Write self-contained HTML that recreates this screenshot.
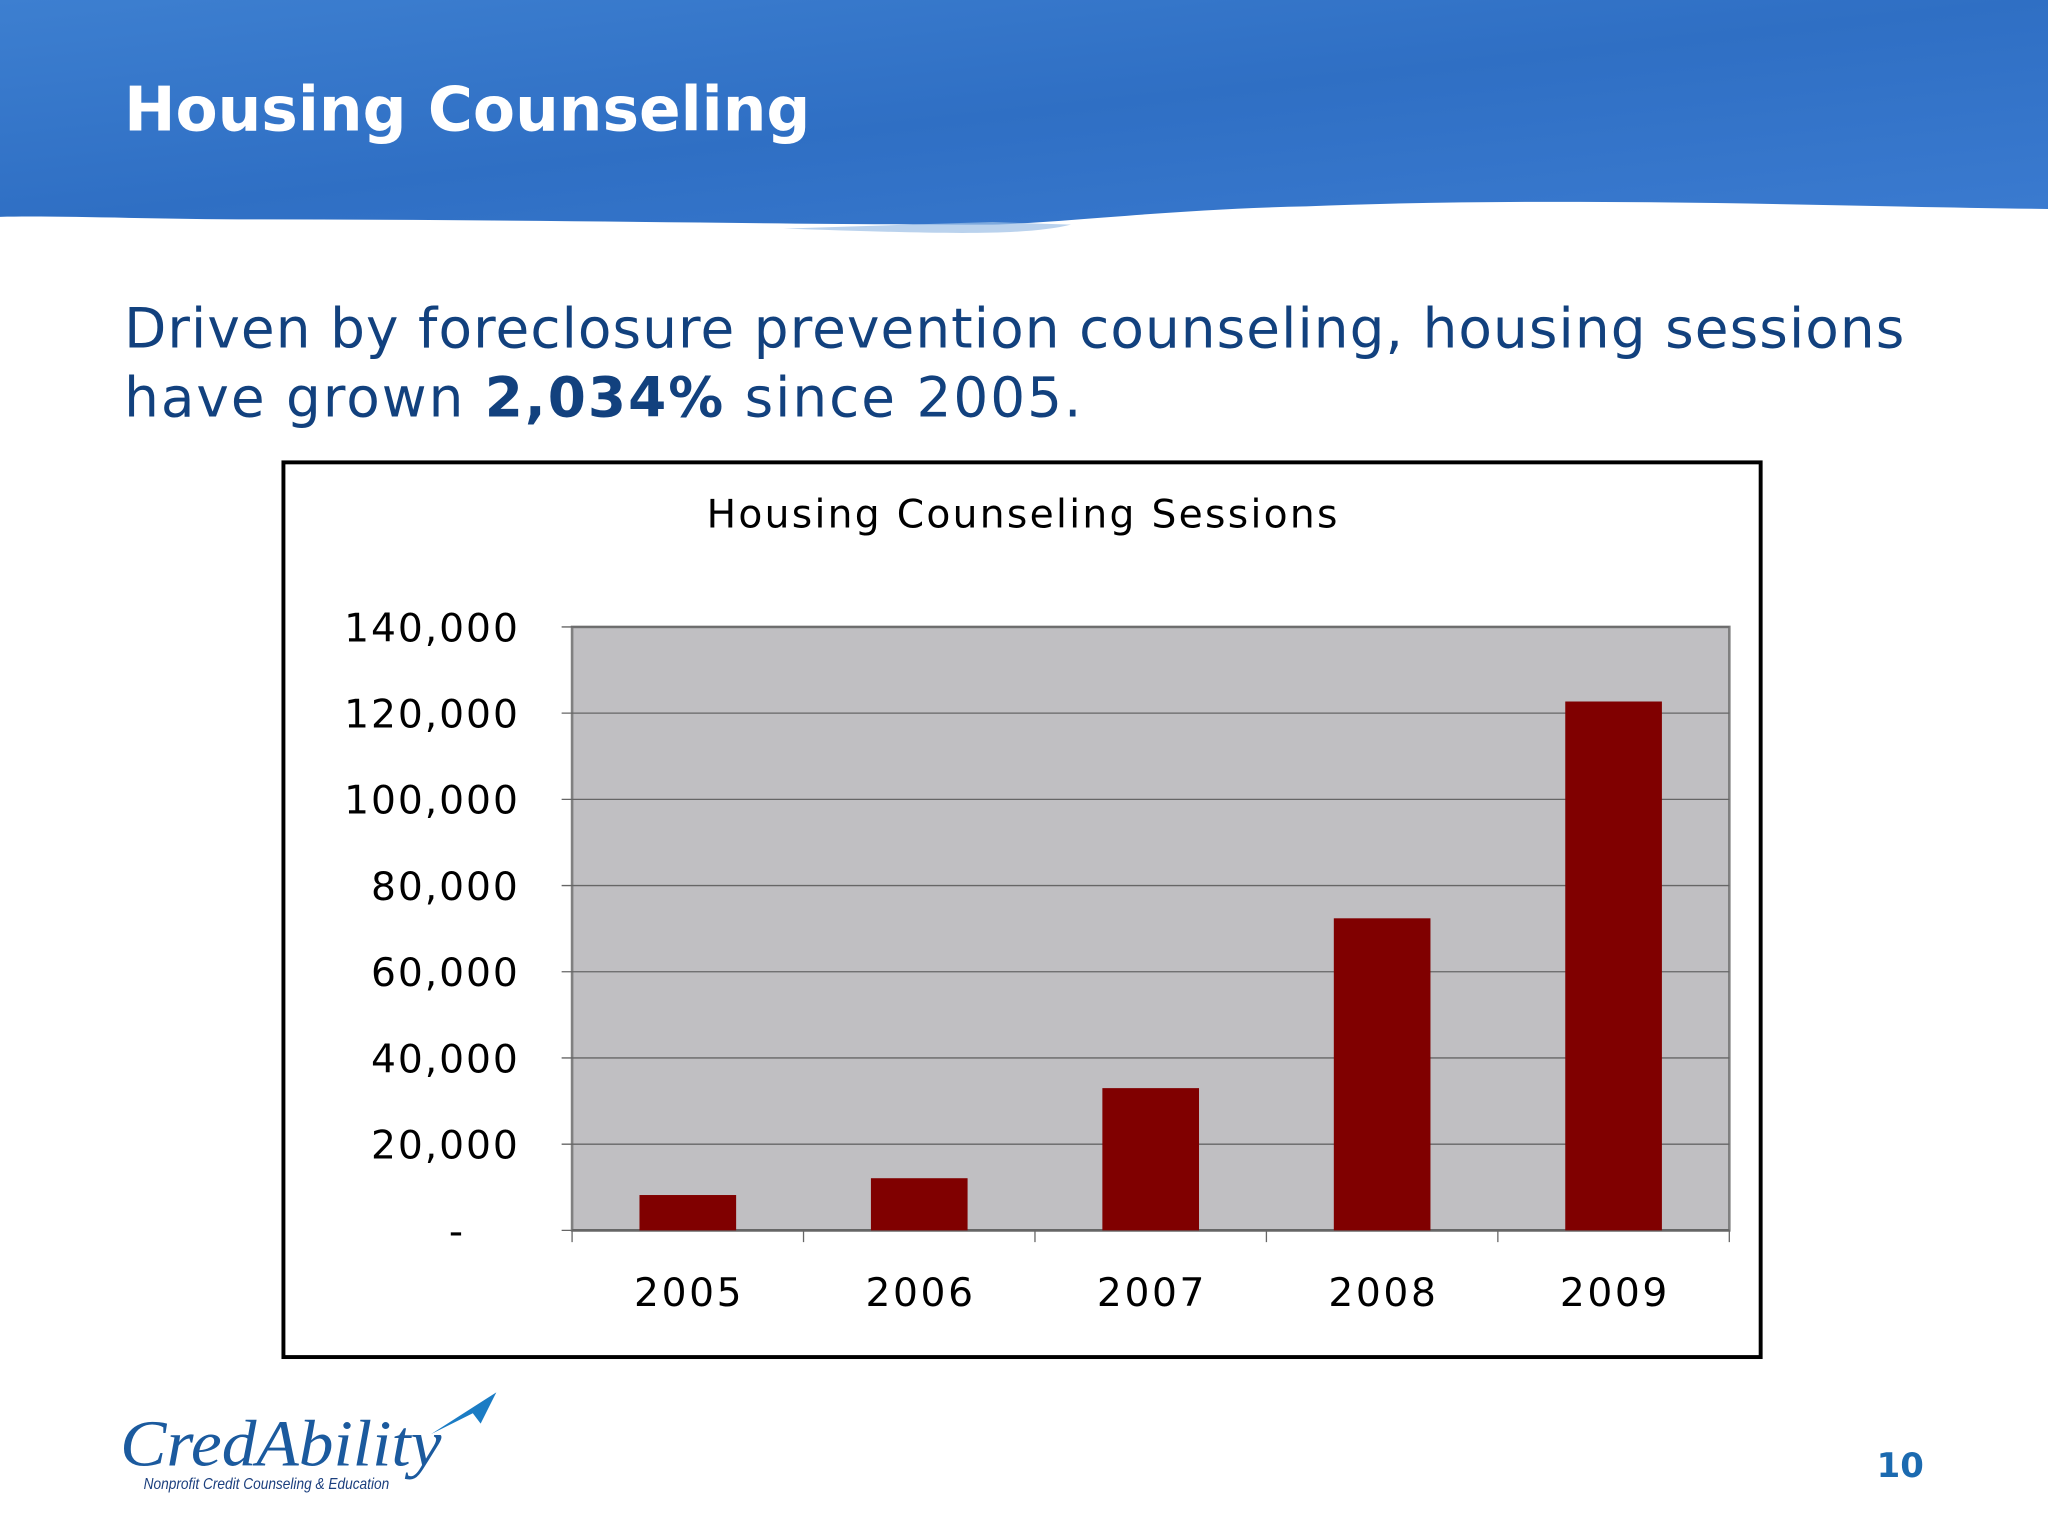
<!DOCTYPE html>
<html><head><meta charset="utf-8"><style>
html,body{margin:0;padding:0;background:#fff;}
svg{display:block;}
</style></head><body>
<svg width="2048" height="1536" viewBox="0 0 1568 1176" xmlns="http://www.w3.org/2000/svg" font-family="'Liberation Sans','DejaVu Sans',sans-serif">
<defs>
<linearGradient id="sky" x1="0" y1="0" x2="1" y2="1">
<stop offset="0" stop-color="#3d7fd0"/><stop offset="0.5" stop-color="#2f6fc4"/><stop offset="1" stop-color="#3b7bd0"/>
</linearGradient>
</defs>
<path d="M0,0 H1568 V160 C1400,158 1200,150 1000,158 C900,160 820,170 760,172 C600,172 400,168 200,168 C120,168 50,165 0,166 Z" fill="url(#sky)"/>
<path d="M600,175 C700,178 780,182 820,172 L760,170 Z" fill="#9cbfe6" opacity="0.7"/>
<text x="95" y="100" font-size="47" font-weight="bold" fill="#fff" font-family="'DejaVu Sans',sans-serif">Housing Counseling</text>
<text x="95" y="266" font-size="42" fill="#12417e" font-family="'DejaVu Sans',sans-serif" textLength="1363" lengthAdjust="spacing">Driven by foreclosure prevention counseling, housing sessions</text>
<text x="95" y="319" font-size="42" fill="#12417e" font-family="'DejaVu Sans',sans-serif" textLength="733" lengthAdjust="spacing">have grown <tspan font-weight="bold">2,034%</tspan> since 2005.</text>
<rect x="217" y="354" width="1131" height="685" fill="#fff" stroke="#000" stroke-width="3"/>
<text x="541" y="404" font-size="30" fill="#000" font-family="'DejaVu Sans',sans-serif" textLength="483" lengthAdjust="spacing">Housing Counseling Sessions</text>
<g id="chart"></g>
<g>
<text x="92" y="1122" font-size="50" font-style="italic" fill="#1b5a9e" font-family="'Liberation Serif',serif" textLength="246" lengthAdjust="spacingAndGlyphs">CredAbility</text>
<path d="M330,1098 L380,1066 L368,1090 L362,1082 Z" fill="#1b7cc4"/>
<text x="110" y="1140" font-size="12" font-style="italic" fill="#1b3f7e" textLength="188" lengthAdjust="spacingAndGlyphs">Nonprofit Credit Counseling &amp; Education</text>
</g>
<text x="1473" y="1131" font-size="26" font-weight="bold" fill="#1b6ab0" text-anchor="end" font-family="'DejaVu Sans',sans-serif">10</text>
</svg>
<script>
const categories=["2005","2006","2007","2008","2009"];
const sessions=[8200,12100,33000,72400,122700];
const yTicks=[0,20000,40000,60000,80000,100000,120000,140000];
const yTickLabels=["-","20,000","40,000","60,000","80,000","100,000","120,000","140,000"];
const NS="http://www.w3.org/2000/svg";
const g=document.getElementById('chart');
const px0=438,px1=1324,py0=942,py1=480,yMax=140000;
const y=v=>py0-(v/yMax)*(py0-py1);
const bw=(px1-px0)/categories.length;
const x=i=>px0+bw*(i+0.5);
function mk(t,a){const e=document.createElementNS(NS,t);for(const k in a)e.setAttribute(k,a[k]);g.appendChild(e);return e;}
const bg=mk('rect',{x:px0,y:py1,width:px1-px0,height:py0-py1,fill:'#c0bfc2',stroke:'#808080','stroke-width':2});


yTicks.forEach((v,i)=>{
 const l=mk('line',{x1:px0-8,x2:px1,y1:y(v),y2:y(v),stroke:'#666','stroke-width':1});
 
 
 const isDash=yTickLabels[i]==="-";
 const t=mk('text',{x:isDash?356:398,y:y(v)+11,'font-size':30,'text-anchor':'end','letter-spacing':1.5,fill:'#000','font-family':"'DejaVu Sans',sans-serif"});
 t.textContent=yTickLabels[i];
 
 
});
for(let i=0;i<=categories.length;i++){
 const l=mk('line',{x1:px0+bw*i,x2:px0+bw*i,y1:py0,y2:py0+9,stroke:'#666','stroke-width':1});
 
 
}
mk('line',{x1:px0,x2:px1,y1:py0,y2:py0,stroke:'#666','stroke-width':2});
categories.forEach((c,i)=>{
 const w=74;
 const r=mk('rect',{x:x(i)-w/2,y:y(sessions[i]),width:w,height:py0-y(sessions[i]),fill:'#800000'});
 
 
 const t=mk('text',{x:x(i)+1,y:1000,'font-size':30,'text-anchor':'middle','letter-spacing':2,fill:'#000','font-family':"'DejaVu Sans',sans-serif"});
 t.textContent=c;
 
 
});
</script>
</body></html>
